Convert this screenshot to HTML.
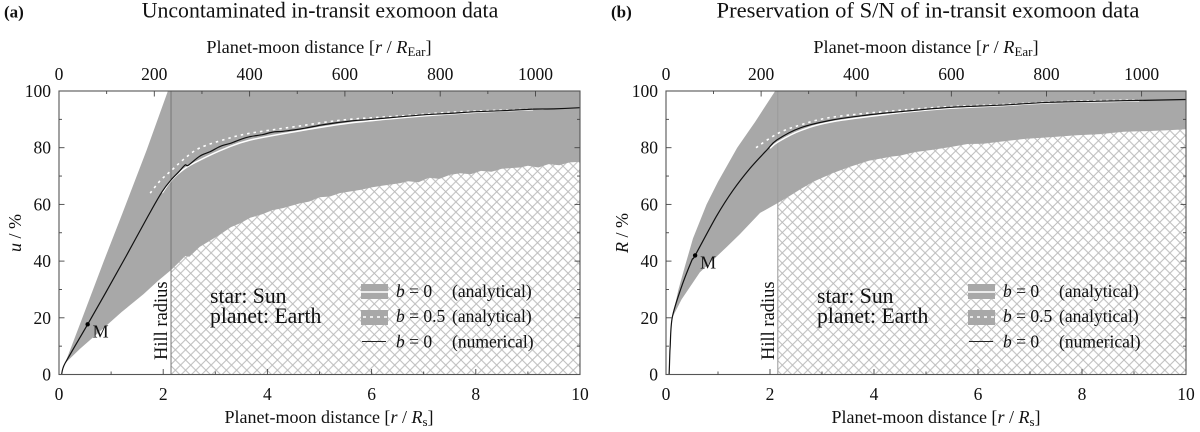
<!DOCTYPE html>
<html lang="en">
<head>
<meta charset="utf-8">
<title>Exomoon in-transit data</title>
<style>
html,body{margin:0;padding:0;background:#fff;width:1200px;height:432px;overflow:hidden}
svg{display:block;font-family:"Liberation Serif",serif;fill:#111}
</style>
</head>
<body>
<svg id="chart" xmlns="http://www.w3.org/2000/svg" width="1200" height="432" viewBox="0 0 1200 432">
<defs>
<pattern id="hatch-a" patternUnits="userSpaceOnUse" width="10.2" height="10.2" x="2" y="3">
<path d="M0 0L10.2 10.2M10.2 0L0 10.2" stroke="#bcbcbc" stroke-width="1" fill="none"/>
</pattern>
<pattern id="hatch-b" patternUnits="userSpaceOnUse" width="10.2" height="10.2" x="2" y="3">
<path d="M0 0L10.2 10.2M10.2 0L0 10.2" stroke="#bcbcbc" stroke-width="1" fill="none"/>
</pattern>
</defs>
</svg>
<script>
// Axis tick values
const bottomTicks = [0, 2, 4, 6, 8, 10];
const bottomMinorTicks = [1, 3, 5, 7, 9];
const topTicks = [0, 200, 400, 600, 800, 1000];
const topMinorTicks = [100, 300, 500, 700, 900];
const leftTicks = [0, 20, 40, 60, 80, 100];
const leftMinorTicks = [10, 30, 50, 70, 90];
const hillRadius = [2.15];

// Panel (a): u / %
const aUpperX = [0.115, 0.45, 0.86, 1.22, 1.68, 2.09, 10];
const aUpperY = [3.9, 20, 40, 57, 79, 100, 100];
const aLowerX = [0.115, 0.4, 0.79, 1.2, 1.62, 1.9, 2.16, 2.3, 2.42, 2.5, 2.7, 2.96, 3.1, 3.3, 3.5, 3.67, 3.9, 4.1, 4.3, 4.63, 4.8, 5.0, 5.2, 5.39, 5.6, 5.8, 6.0, 6.2, 6.55, 6.7, 6.9, 7.1, 7.3, 7.5, 7.7, 7.9, 8.1, 8.3, 8.5, 8.85, 9.0, 9.2, 9.4, 9.6, 9.8, 10];
const aLowerY = [3.9, 9, 15.3, 22, 28.3, 33, 37, 39.5, 41.8, 41.5, 45, 47.9, 49.5, 52, 53.5, 55.3, 56.5, 58, 58.7, 60.4, 61, 62.5, 62.8, 64, 64.6, 65.2, 66, 66.6, 67.5, 68.2, 67.8, 69.4, 69, 70.4, 71, 70.6, 71.8, 71.5, 72.6, 73, 73.6, 73, 74.2, 73.8, 74.8, 75];
const aSolidX = [1.98, 2.16, 2.4, 2.7, 3.2, 3.67, 4.63, 5.58, 6.55, 7.5, 8.46, 9.1];
const aSolidY = [64, 68.6, 72.5, 75.6, 79.8, 82.7, 86, 88.7, 90.5, 91.9, 92.9, 93.4];
const aDottedX = [1.75, 1.95, 2.16, 2.4, 2.7, 3.2, 3.67, 4.63, 5, 5.58, 6.55, 7.7, 9.1];
const aDottedY = [64, 68.5, 72, 76, 79.9, 83, 85.1, 87.7, 88.7, 90, 91.2, 92.7, 93.6];
const aNumericX = [0.05, 0.07, 0.115, 0.3, 0.55, 0.9, 1.29, 1.71, 1.98, 2.15, 2.3, 2.42, 2.48, 2.7, 2.9, 3.1, 3.3, 3.5, 3.67, 3.9, 4.1, 4.3, 4.63, 5.1, 5.58, 6.0, 6.55, 7.0, 7.5, 8.0, 8.46, 9.1, 9.5, 10];
const aNumericY = [0, 1.8, 3.9, 9.8, 17.7, 29, 41.8, 55.9, 64.5, 68.6, 71.5, 73.9, 73.8, 77, 78.6, 80.5, 81.6, 83, 83.9, 84.6, 85.5, 85.8, 86.6, 88.2, 89.4, 90, 90.9, 91.6, 92.1, 92.7, 93, 93.6, 93.7, 94.1];
const aMoonX = [0.55];
const aMoonY = [17.7];

// Panel (b): R / %
const bUpperX = [0.12, 0.24, 0.37, 0.52, 0.78, 1.0, 1.37, 1.71, 2.1, 10];
const bUpperY = [20, 30, 38.5, 48, 60, 68, 80, 89, 100, 100];
const bLowerX = [0.12, 0.3, 0.65, 1.17, 1.42, 1.81, 2.15, 2.38, 2.6, 2.83, 3.2, 3.54, 3.9, 4.31, 4.5, 4.8, 5.1, 5.46, 5.8, 6.1, 6.42, 6.9, 7.38, 7.9, 8.35, 8.8, 9.3, 9.7, 10];
const bLowerY = [20, 26.5, 36, 45, 49.5, 57, 60.5, 63, 65.5, 68, 71, 73.3, 75.4, 76.8, 77.2, 78.5, 79.2, 80.2, 81.3, 81.4, 82.1, 83.1, 83.7, 84.4, 84.8, 85.6, 85.9, 86.2, 86.5];
const bSolidX = [2.0, 2.15, 2.58, 3.21, 4.5, 5.46, 6.42, 7.38, 8.35, 9.1];
const bSolidY = [79.8, 82, 86, 89.2, 92.3, 93.9, 94.8, 95.8, 96.2, 96.5];
const bDottedX = [1.73, 2.15, 2.58, 3.21, 4.5, 5.46, 6.42, 7.38, 8.35, 9.1];
const bDottedY = [80, 85, 88, 90.8, 93.2, 94.5, 95.2, 96.1, 96.6, 96.8];
const bNumericX = [0.06, 0.07, 0.08, 0.12, 0.28, 0.49, 0.56, 0.97, 1.29, 1.62, 1.94, 2.13, 2.58, 3.21, 3.86, 4.5, 5.46, 6.42, 7.38, 8.35, 10];
const bNumericY = [0, 5, 10, 20, 30, 40, 42, 55.8, 65, 72.8, 79.2, 82.7, 87, 89.8, 91.5, 92.7, 94.2, 95, 96, 96.4, 97];
const bMoonX = [0.56];
const bMoonY = [42];

const NS = 'http://www.w3.org/2000/svg';
const svg = document.getElementById('chart');

function make(tag, attrs, parent) {
  const e = document.createElementNS(NS, tag);
  for (const k in attrs) e.setAttribute(k, attrs[k]);
  (parent || svg).appendChild(e);
  return e;
}
function richText(parent, attrs, parts) {
  const t = make('text', attrs, parent);
  parts.forEach(function (p) {
    const s = document.createElementNS(NS, 'tspan');
    if (p.i) s.setAttribute('font-style', 'italic');
    if (p.sub) { s.setAttribute('font-size', '13'); s.setAttribute('dy', '3'); }
    if (p.up) s.setAttribute('dy', '-3');
    s.textContent = p.t;
    t.appendChild(s);
  });
  return t;
}

function drawPanel(cfg) {
  const g = make('g', {});
  
  

  const x = function (v) { return cfg.x0 + (v / 10) * cfg.w; };
  const xTop = function (v) { return cfg.x0 + (v / 200) * 95.3 * (cfg.w / 521); };
  const y = function (v) { return 374.5 - (v / 100) * 283.5; };
  const path = function (xs, ys) {
    return xs.map(function (v, i) { return (i ? 'L' : 'M') + x(v).toFixed(1) + ' ' + y(ys[i]).toFixed(1); }).join('');
  };
  // Smooth line through the data values (Catmull-Rom to Bezier)
  const smooth = function (xs, ys) {
    const p = xs.map(function (v, i) { return [x(v), y(ys[i])]; });
    let d = 'M' + p[0][0].toFixed(1) + ' ' + p[0][1].toFixed(1);
    for (let i = 0; i < p.length - 1; i++) {
      const a = p[Math.max(i - 1, 0)], b = p[i], c = p[i + 1], e = p[Math.min(i + 2, p.length - 1)];
      d += 'C' + (b[0] + (c[0] - a[0]) / 6).toFixed(1) + ' ' + (b[1] + (c[1] - a[1]) / 6).toFixed(1) + ' ' +
        (c[0] - (e[0] - b[0]) / 6).toFixed(1) + ' ' + (c[1] - (e[1] - b[1]) / 6).toFixed(1) + ' ' +
        c[0].toFixed(1) + ' ' + c[1].toFixed(1);
    }
    return d;
  };

  const hatch = make('rect', { x: x(hillRadius[0]), y: y(100), width: x(10) - x(hillRadius[0]), height: y(0) - y(100), fill: 'url(#hatch-' + cfg.id + ')' }, g);
  
  

  const revX = cfg.lowerX.slice().reverse();
  const revY = cfg.lowerY.slice().reverse();
  const band = make('path', { d: path(cfg.upperX.concat(revX), cfg.upperY.concat(revY)) + 'Z', fill: '#a8a8a8', stroke: 'none' }, g);
  
  

  const hill = make('line', { x1: x(hillRadius[0]), x2: x(hillRadius[0]), y1: y(100), y2: y(0), stroke: cfg.hillColor, 'stroke-width': 1 }, g);
  
  

  const solid = make('path', { d: smooth(cfg.solidX, cfg.solidY), fill: 'none', stroke: '#fff', 'stroke-width': 1.5 }, g);
  
  

  const dotted = make('path', { d: smooth(cfg.dottedX, cfg.dottedY), fill: 'none', stroke: '#fff', 'stroke-width': 1.6, 'stroke-dasharray': '2.5 4' }, g);
  
  

  const numeric = make('path', { d: smooth(cfg.numericX, cfg.numericY), fill: 'none', stroke: '#111', 'stroke-width': 1.2 }, g);
  
  

  const moon = make('circle', { cx: x(cfg.moonX[0]), cy: y(cfg.moonY[0]), r: 2.2, fill: '#000' }, g);
  
  

  const moonLabel = make('text', { x: x(cfg.moonX[0]) + 5, y: y(cfg.moonY[0]) + 13, 'font-size': 18 }, g);
  
  
  moonLabel.textContent = 'M';

  const frame = make('rect', { x: cfg.x0, y: y(100), width: cfg.w, height: y(0) - y(100), fill: 'none', stroke: '#555', 'stroke-width': 1.1 }, g);
  
  

  const tick = function (x1, y1, x2, y2, name) {
    const t = make('line', { x1: x1, y1: y1, x2: x2, y2: y2, stroke: '#444', 'stroke-width': 0.9 }, g);
    
    
  };
  bottomTicks.forEach(function (v) {
    if (v > 0 && v < 10) tick(x(v), y(0), x(v), y(0) - 5.5, 'bottom-axis-tick');
    const l = make('text', { x: x(v), y: 400, 'font-size': 17.5, 'text-anchor': 'middle' }, g);
    
    
    l.textContent = v;
  });
  bottomMinorTicks.forEach(function (v) { tick(x(v), y(0), x(v), y(0) - 3, 'bottom-axis-minor-tick'); });
  topTicks.forEach(function (v) {
    if (v > 0) tick(xTop(v), y(100), xTop(v), y(100) + 5.5, 'top-axis-tick');
    const l = make('text', { x: xTop(v), y: 80, 'font-size': 17.5, 'text-anchor': 'middle' }, g);
    
    
    l.textContent = v;
  });
  topMinorTicks.forEach(function (v) { tick(xTop(v), y(100), xTop(v), y(100) + 3, 'top-axis-minor-tick'); });
  leftTicks.forEach(function (v) {
    if (v > 0 && v < 100) {
      tick(x(0), y(v), x(0) + 5.5, y(v), 'left-axis-tick');
      tick(x(10), y(v), x(10) - 5.5, y(v), 'right-axis-tick');
    }
    const l = make('text', { x: cfg.x0 - 8, y: y(v) + 6, 'font-size': 17.5, 'text-anchor': 'end' }, g);
    
    
    l.textContent = v;
  });
  leftMinorTicks.forEach(function (v) {
    tick(x(0), y(v), x(0) + 3, y(v), 'left-axis-minor-tick');
    tick(x(10), y(v), x(10) - 3, y(v), 'right-axis-minor-tick');
  });

  const panelTag = make('text', { x: cfg.tagX, y: 17.5, 'font-size': 17, 'font-weight': 'bold' }, g);
  
  
  panelTag.textContent = cfg.tag;

  const title = make('text', { x: cfg.titleX, y: 17.5, 'font-size': cfg.titleSize, 'text-anchor': 'middle' }, g);
  
  
  title.textContent = cfg.title;

  const topTitle = richText(g, { x: cfg.x0 + 260, y: 53, 'font-size': 18.3, 'text-anchor': 'middle' }, [
    { t: 'Planet-moon distance [' }, { t: 'r', i: 1 }, { t: ' / ' }, { t: 'R', i: 1 }, { t: 'Ear', sub: 1 }, { t: ']', up: 1 }
  ]);
  
  

  const bottomTitle = richText(g, { x: cfg.x0 + 270, y: 423, 'font-size': 18, 'text-anchor': 'middle' }, [
    { t: 'Planet-moon distance [' }, { t: 'r', i: 1 }, { t: ' / ' }, { t: 'R', i: 1 }, { t: 's', sub: 1 }, { t: ']', up: 1 }
  ]);
  
  

  const yTitle = richText(g, { transform: 'translate(' + (cfg.x0 - 38) + ' 233) rotate(-90)', 'font-size': 18, 'text-anchor': 'middle' }, [
    { t: cfg.yVar, i: 1 }, { t: ' / %' }
  ]);
  
  

  const hillLabel = make('text', { transform: 'translate(' + (x(hillRadius[0]) - 4) + ' 360) rotate(-90)', 'font-size': 18.5 }, g);
  
  
  hillLabel.textContent = 'Hill radius';

  const star = make('text', { x: cfg.x0 + 151, y: 303, 'font-size': 21.7 }, g);
  
  
  star.textContent = 'star: Sun';

  const planet = make('text', { x: cfg.x0 + 151, y: 323, 'font-size': 21.7 }, g);
  
  
  planet.textContent = 'planet: Earth';

  const lx = cfg.x0 + 302;
  const legend = make('g', {}, g);
  
  

  const sw1 = make('rect', { x: lx, y: 284, width: 27, height: 15, fill: '#a8a8a8' }, legend);
  
  
  const sl1 = make('line', { x1: lx, x2: lx + 27, y1: 292, y2: 292, stroke: '#fff', 'stroke-width': 1.5 }, legend);
  
  
  const sw2 = make('rect', { x: lx, y: 310, width: 27, height: 15, fill: '#a8a8a8' }, legend);
  
  
  const sl2 = make('line', { x1: lx + 2, x2: lx + 27, y1: 317, y2: 317, stroke: '#fff', 'stroke-width': 1.5, 'stroke-dasharray': '3 4' }, legend);
  
  
  const sl3 = make('line', { x1: lx + 1, x2: lx + 25, y1: 341.5, y2: 341.5, stroke: '#222', 'stroke-width': 1 }, legend);
  
  

  const e1 = richText(legend, { x: lx + 35, y: 297, 'font-size': 17.5 }, [{ t: 'b', i: 1 }, { t: ' = 0' }]);
  
  
  const d1 = make('text', { x: lx + 91, y: 297, 'font-size': 17.5 }, legend);
  
  
  d1.textContent = '(analytical)';
  const e2 = richText(legend, { x: lx + 35, y: 322, 'font-size': 17.5 }, [{ t: 'b', i: 1 }, { t: ' = 0.5' }]);
  
  
  const d2 = make('text', { x: lx + 91, y: 322, 'font-size': 17.5 }, legend);
  
  
  d2.textContent = '(analytical)';
  const e3 = richText(legend, { x: lx + 35, y: 347.5, 'font-size': 17.5 }, [{ t: 'b', i: 1 }, { t: ' = 0' }]);
  
  
  const d3 = make('text', { x: lx + 91, y: 347.5, 'font-size': 17.5 }, legend);
  
  
  d3.textContent = '(numerical)';
}

drawPanel({
  id: 'a', x0: 59, w: 521, tag: '(a)', tagX: 4, titleX: 320, titleSize: 21.8, yVar: 'u', hillColor: '#777',
  title: 'Uncontaminated in-transit exomoon data',
  upperX: aUpperX, upperY: aUpperY, lowerX: aLowerX, lowerY: aLowerY,
  solidX: aSolidX, solidY: aSolidY, dottedX: aDottedX, dottedY: aDottedY,
  numericX: aNumericX, numericY: aNumericY, moonX: aMoonX, moonY: aMoonY
});
drawPanel({
  id: 'b', x0: 666, w: 520, tag: '(b)', tagX: 611, titleX: 928, titleSize: 22.6, yVar: 'R', hillColor: '#999',
  title: 'Preservation of S/N of in-transit exomoon data',
  upperX: bUpperX, upperY: bUpperY, lowerX: bLowerX, lowerY: bLowerY,
  solidX: bSolidX, solidY: bSolidY, dottedX: bDottedX, dottedY: bDottedY,
  numericX: bNumericX, numericY: bNumericY, moonX: bMoonX, moonY: bMoonY
});
</script>
</body>
</html>
